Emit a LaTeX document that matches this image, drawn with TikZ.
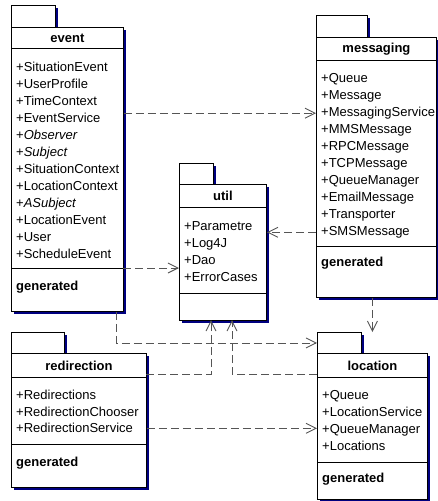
\documentclass[tikz,border=0pt]{standalone}
\usepackage{fontspec}
\setmainfont{Liberation Sans}
\usetikzlibrary{arrows.meta, positioning, shadows}
\definecolor{umlshadow}{RGB}{0,0,128}
\definecolor{deplink}{RGB}{85,85,85}

\begin{document}
\begin{tikzpicture}[
    x=1pt, y=-1pt,
    pkg/.style={draw, fill=white, line width=0.9pt, inner sep=0pt, anchor=north west,
      drop shadow={shadow xshift=3pt, shadow yshift=-3pt, fill=umlshadow, opacity=1}},
    tab/.style={pkg, minimum height=22pt},
    head/.style={draw, line width=0.9pt, inner sep=0pt, anchor=north west, font=\fontsize{13}{15}\selectfont\bfseries},
    member/.style={anchor=base west, inner sep=0pt, font=\fontsize{13}{15}\selectfont},
    gen/.style={anchor=west, inner sep=0pt, font=\fontsize{13}{15}\selectfont\bfseries},
    sep/.style={line width=0.9pt},
    dep/.style={-{Straight Barb[length=10pt, width=10pt]}, deplink, dash pattern=on 8pt off 4pt, line width=0.9pt}
  ]
  \useasboundingbox (0,0) rectangle (437,501);

  % event
  \node[tab, minimum width=44pt] (evtab) at (11,5) {};
  \node[pkg, minimum width=112pt, minimum height=284pt] (event) at (11,27) {};
  \node[head, minimum width=112pt, minimum height=21pt] (evhead) at (event.north west) {event};
  \foreach \m [count=\i] in {+SituationEvent, +UserProfile, +TimeContext, +EventService,
      +\textit{Observer}, +\textit{Subject}, +SituationContext, +LocationContext,
      +\textit{ASubject}, +LocationEvent, +User, +ScheduleEvent}
    \node[member] (ev\i) at (16,{71+17*(\i-1)}) {\m};
  \coordinate (evsepl) at (11,268);
  \coordinate (evsepr) at (123,268);
  \draw[sep] (evsepl) -- (evsepr);
  \node[gen] (evgen) at (16,287) {generated};

  % messaging
  \node[tab, minimum width=51pt] (msgtab) at (316,15) {};
  \node[pkg, minimum width=120pt, minimum height=260pt] (messaging) at (316,37) {};
  \node[head, minimum width=120pt, minimum height=23pt] (msghead) at (messaging.north west) {messaging};
  \foreach \m [count=\i] in {+Queue, +Message, +MessagingService, +MMSMessage, +RPCMessage,
      +TCPMessage, +QueueManager, +EmailMessage, +Transporter, +SMSMessage}
    \node[member] (ms\i) at (321,{82.5+17*(\i-1)}) {\m};
  \draw[sep] (316,246) -- (436,246);
  \node[gen] (msggen) at (321,263) {generated};

  % util
  \node[tab, minimum width=34pt, minimum height=21pt] (utiltab) at (179,163) {};
  \node[pkg, minimum width=87pt, minimum height=136pt] (util) at (179,184) {};
  \node[head, minimum width=87pt, minimum height=23pt] (utilhead) at (util.north west) {util};
  \foreach \m [count=\i] in {+Parametre, +Log4J, +Dao, +ErrorCases}
    \node[member] (ut\i) at (184,{230.5+17*(\i-1)}) {\m};
  \draw[sep] (179,293) -- (266,293);
  \coordinate (utin1) at (211,320);
  \coordinate (utin2) at (232,320);

  % redirection
  \node[tab, minimum width=53pt, minimum height=21pt] (rdtab) at (11,332) {};
  \node[pkg, minimum width=135pt, minimum height=134pt] (redirection) at (11,353) {};
  \node[head, minimum width=135pt, minimum height=24pt] (rdhead) at (redirection.north west) {redirection};
  \foreach \m [count=\i] in {+Redirections, +RedirectionChooser, +RedirectionService}
    \node[member] (rd\i) at (16,{399.5+16.7*(\i-1)}) {\m};
  \draw[sep] (11,444) -- (146,444);
  \node[gen] (rdgen) at (16,463) {generated};
  \coordinate (rdout) at (146,374);

  % location
  \node[tab, minimum width=44pt, minimum height=21pt] (loctab) at (317,332) {};
  \node[pkg, minimum width=110pt, minimum height=146pt] (location) at (317,353) {};
  \node[head, minimum width=110pt, minimum height=24pt] (lochead) at (location.north west) {location};
  \foreach \m [count=\i] in {+Queue, +LocationService, +QueueManager, +Locations}
    \node[member] (lc\i) at (322,{399.5+17*(\i-1)}) {\m};
  \draw[sep] (317,462) -- (427,462);
  \node[gen] (locgen) at (322,479) {generated};
  \coordinate (locout) at (317,374);

  % dependencies
  \draw[dep] (ms3 -| event.east) -- (ms3 -| messaging.west);
  \draw[dep] (evsepr) -- (evsepr -| util.west);
  \draw[dep] (ms10 -| messaging.west) -- (ms10 -| util.east);
  \draw[dep] (location.north |- messaging.south) -- (location.north |- loctab.north);
  \draw[dep] ([xshift=-7pt]event.south east) |- (loctab.west);
  \draw[dep] (rdout) -| (utin1);
  \draw[dep] (locout) -| (utin2);
  \draw[dep] (rd3 -| redirection.east) -- (rd3 -| location.west);
\end{tikzpicture}
\end{document}
